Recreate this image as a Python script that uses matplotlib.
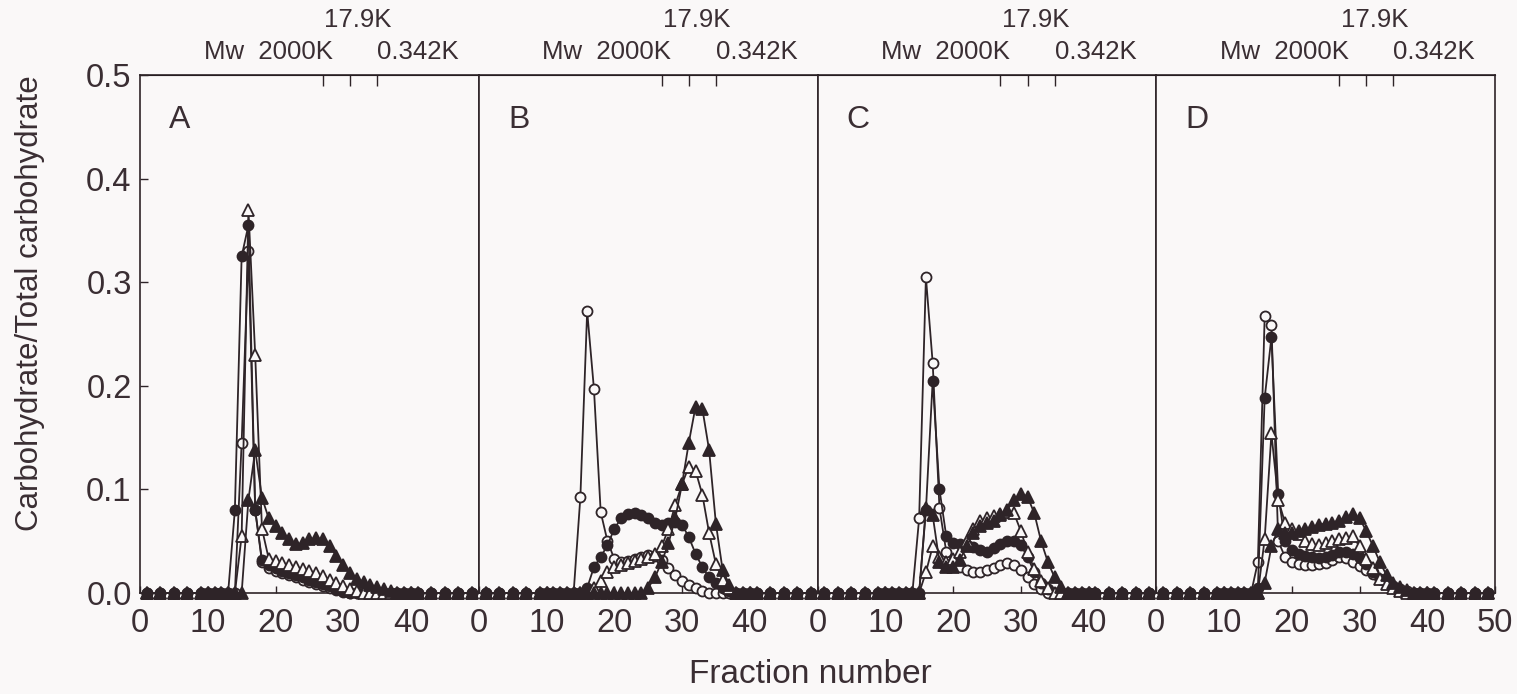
import matplotlib
matplotlib.use('Agg')
import matplotlib.pyplot as plt
import matplotlib.transforms as mtransforms

plt.rcParams['font.family'] = ['Liberation Sans', 'DejaVu Sans']

INK = '#2e2428'
TEXT = '#3a2e33'
BG = '#faf8f8'

# fraction numbers sampled (sparse at the ends, every fraction in the middle)
FRACTIONS = [1, 3, 5, 7,
             9, 10, 11, 12, 13, 14, 15, 16, 17, 18, 19, 20, 21, 22, 23, 24, 25,
             26, 27, 28, 29, 30, 31, 32, 33, 34, 35, 36, 37, 38, 39, 40, 41,
             43, 45, 47, 49]

# Panel A
A_OPEN_CIRCLE = [0, 0, 0, 0,
                 0, 0, 0, 0, 0, 0, .145, .33, .08, .03, .024, .021, .019, .017, .015, .013, .011,
                 .009, .007, .005, .003, .001, 0, 0, 0, 0, 0, 0, 0, 0, 0, 0, 0,
                 0, 0, 0, 0]
A_FILLED_CIRCLE = [0, 0, 0, 0,
                   0, 0, 0, 0, 0, .08, .325, .355, .08, .032, .027, .024, .021, .019, .017, .015, .013,
                   .011, .009, .007, .004, .002, 0, 0, 0, 0, 0, 0, 0, 0, 0, 0, 0,
                   0, 0, 0, 0]
A_OPEN_TRIANGLE = [0, 0, 0, 0,
                   0, 0, 0, 0, 0, 0, .055, .37, .23, .062, .033, .031, .029, .027, .025, .023, .021,
                   .019, .016, .013, .01, .007, .004, .002, 0, 0, 0, 0, 0, 0, 0, 0, 0,
                   0, 0, 0, 0]
A_FILLED_TRIANGLE = [0, 0, 0, 0,
                     0, 0, 0, 0, 0, 0, 0, .09, .138, .092, .072, .065, .058, .052, .047, .048, .052,
                     .053, .052, .045, .036, .027, .019, .014, .011, .008, .006, .004, .002, 0, 0, 0, 0,
                     0, 0, 0, 0]

# Panel B
B_OPEN_CIRCLE = [0, 0, 0, 0,
                 0, 0, 0, 0, 0, 0, .093, .272, .197, .078, .05, .033, .03, .031, .033, .035, .037,
                 .036, .032, .024, .017, .012, .008, .005, .002, 0, 0, 0, 0, 0, 0, 0, 0,
                 0, 0, 0, 0]
B_FILLED_CIRCLE = [0, 0, 0, 0,
                   0, 0, 0, 0, 0, 0, 0, .005, .025, .035, .046, .062, .072, .076, .077, .075, .072,
                   .068, .066, .068, .069, .066, .054, .038, .025, .015, .01, .005, .002, 0, 0, 0, 0,
                   0, 0, 0, 0]
B_OPEN_TRIANGLE = [0, 0, 0, 0,
                   0, 0, 0, 0, 0, 0, 0, 0, .005, .012, .02, .025, .027, .029, .031, .033, .035,
                   .038, .045, .062, .085, .105, .122, .118, .095, .058, .028, .013, .005, 0, 0, 0, 0,
                   0, 0, 0, 0]
B_FILLED_TRIANGLE = [0, 0, 0, 0,
                     0, 0, 0, 0, 0, 0, 0, 0, 0, 0, 0, 0, 0, 0, 0, 0, .005,
                     .015, .03, .048, .072, .105, .145, .18, .178, .138, .067, .022, .008, 0, 0, 0, 0,
                     0, 0, 0, 0]

# Panel C
C_OPEN_CIRCLE = [0, 0, 0, 0,
                 0, 0, 0, 0, 0, 0, .072, .305, .222, .082, .04, .03, .025, .022, .02, .02, .022,
                 .024, .027, .029, .027, .022, .015, .009, .004, 0, 0, 0, 0, 0, 0, 0, 0,
                 0, 0, 0, 0]
C_FILLED_CIRCLE = [0, 0, 0, 0,
                   0, 0, 0, 0, 0, 0, 0, .08, .205, .1, .055, .048, .047, .046, .044, .042, .04,
                   .043, .047, .05, .05, .046, .035, .02, .01, .004, 0, 0, 0, 0, 0, 0, 0,
                   0, 0, 0, 0]
C_OPEN_TRIANGLE = [0, 0, 0, 0,
                   0, 0, 0, 0, 0, 0, 0, .02, .045, .035, .03, .033, .04, .05, .062, .07, .072,
                   .074, .076, .078, .077, .06, .04, .023, .012, .005, 0, 0, 0, 0, 0, 0, 0,
                   0, 0, 0, 0]
C_FILLED_TRIANGLE = [0, 0, 0, 0,
                     0, 0, 0, 0, 0, 0, 0, .082, .075, .03, .025, .025, .032, .045, .058, .065, .068,
                     .07, .075, .08, .09, .096, .093, .077, .05, .03, .015, .006, 0, 0, 0, 0, 0,
                     0, 0, 0, 0]

# Panel D
D_OPEN_CIRCLE = [0, 0, 0, 0,
                 0, 0, 0, 0, 0, 0, .03, .267, .259, .05, .035, .03, .028, .027, .027, .028, .029,
                 .032, .035, .034, .03, .026, .022, .018, .014, .01, .007, .004, .002, 0, 0, 0, 0,
                 0, 0, 0, 0]
D_FILLED_CIRCLE = [0, 0, 0, 0,
                   0, 0, 0, 0, 0, 0, .005, .188, .247, .096, .05, .042, .038, .036, .035, .034, .035,
                   .037, .04, .04, .038, .034, .028, .02, .014, .009, .005, .002, 0, 0, 0, 0, 0,
                   0, 0, 0, 0]
D_OPEN_TRIANGLE = [0, 0, 0, 0,
                   0, 0, 0, 0, 0, 0, 0, .052, .154, .09, .068, .062, .057, .05, .047, .046, .048,
                   .05, .052, .053, .055, .045, .033, .024, .014, .009, .005, .002, 0, 0, 0, 0, 0,
                   0, 0, 0, 0]
D_FILLED_TRIANGLE = [0, 0, 0, 0,
                     0, 0, 0, 0, 0, 0, 0, .01, .045, .062, .058, .058, .06, .062, .064, .066, .067,
                     .068, .07, .073, .076, .072, .06, .045, .03, .017, .01, .006, .003, 0, 0, 0, 0,
                     0, 0, 0, 0]

PANEL_LABELS = ['A', 'B', 'C', 'D']
PANEL_DATA = [
    (A_OPEN_CIRCLE, A_FILLED_CIRCLE, A_OPEN_TRIANGLE, A_FILLED_TRIANGLE),
    (B_OPEN_CIRCLE, B_FILLED_CIRCLE, B_OPEN_TRIANGLE, B_FILLED_TRIANGLE),
    (C_OPEN_CIRCLE, C_FILLED_CIRCLE, C_OPEN_TRIANGLE, C_FILLED_TRIANGLE),
    (D_OPEN_CIRCLE, D_FILLED_CIRCLE, D_OPEN_TRIANGLE, D_FILLED_TRIANGLE),
]

# molecular weight standards (fraction position on top axis)
MW_FRACTIONS = [27, 31, 35]

# marker style per series: open circle, filled circle, open triangle, filled triangle
STYLES = [
    dict(marker='o', mfc=BG, ms=7.2),
    dict(marker='o', mfc=INK, ms=7.2),
    dict(marker='^', mfc=BG, ms=8),
    dict(marker='^', mfc=INK, ms=8),
]

fig, axes = plt.subplots(1, 4, figsize=(15.17, 6.94), dpi=100, sharey=True)
fig.patch.set_facecolor(BG)
fig.subplots_adjust(left=0.0923, right=0.9855, top=0.8919, bottom=0.1455, wspace=0)

for i, ax in enumerate(axes):
    ax.set_facecolor(BG)
    for vals, st in zip(PANEL_DATA[i], STYLES):
        ax.plot(FRACTIONS, vals, color=INK, lw=1.3, mec=INK, mew=1.3,
                clip_on=False, zorder=3, **st)
    ax.set_xlim(0, 50)
    ax.set_ylim(0, 0.5)
    if i == 3:
        ax.set_xticks([0, 10, 20, 30, 40, 50])
    else:
        ax.set_xticks([0, 10, 20, 30, 40])
    ax.tick_params(axis='x', direction='in', length=5, width=1, color=INK,
                   labelsize=23.5, labelcolor=TEXT, pad=11)
    ax.tick_params(axis='y', direction='in', length=6, width=1, color=INK,
                   labelsize=23.5, labelcolor=TEXT, pad=6, left=(i == 0))
    for sp in ax.spines.values():
        sp.set_color(INK)
        sp.set_linewidth(1.2)

    top = ax.secondary_xaxis('top')
    top.set_xticks(MW_FRACTIONS)
    top.set_xticklabels([])
    top.tick_params(direction='in', length=8, width=1, color=INK)

    trans = mtransforms.blended_transform_factory(ax.transData, ax.transAxes)
    ax.text(32.2, 1.106, '17.9K', transform=trans, ha='center', va='center',
            fontsize=18.5, color=TEXT)
    ax.text(28.4, 1.045, 'Mw  2000K', transform=trans, ha='right', va='center',
            fontsize=18.5, color=TEXT)
    ax.text(35.0, 1.045, '0.342K', transform=trans, ha='left', va='center',
            fontsize=18.5, color=TEXT)
    ax.text(4.3, 0.457, PANEL_LABELS[i], ha='left', va='center',
            fontsize=23, color=TEXT)

axes[0].set_yticks([0.0, 0.1, 0.2, 0.3, 0.4, 0.5])
axes[0].set_yticklabels(['0.0', '0.1', '0.2', '0.3', '0.4', '0.5'])

fig.text(0.020, 0.563, 'Carbohydrate/Total carbohydrate', rotation=90,
         ha='center', va='center', fontsize=22.5, color=TEXT)
fig.text(0.534, 0.016, 'Fraction number', ha='center', va='baseline',
         fontsize=24, color=TEXT)

fig.savefig('out.png', dpi=100, facecolor=BG)
